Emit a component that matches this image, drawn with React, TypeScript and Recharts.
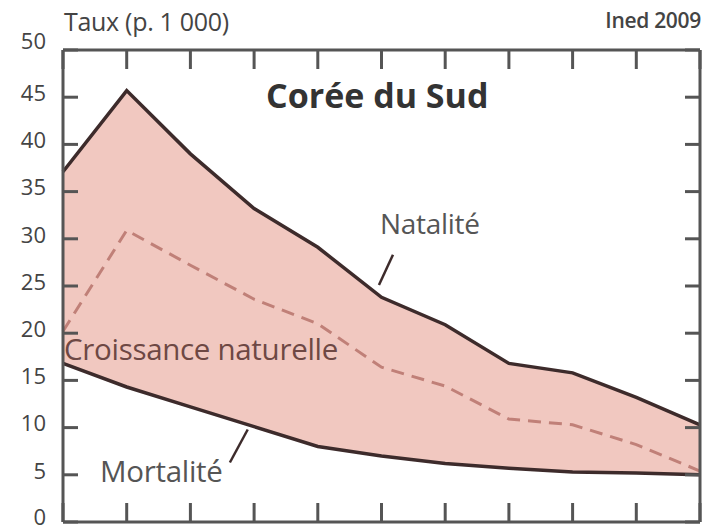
import {
  ComposedChart,
  Area,
  Line,
  XAxis,
  YAxis,
  ReferenceLine,
} from "recharts"

// Corée du Sud, taux pour 1 000 habitants
const ANNEES = [1950, 1955, 1960, 1965, 1970, 1975, 1980, 1985, 1990, 1995, 2000]
const NATALITE = [37.1, 45.7, 39, 33.2, 29.1, 23.8, 20.9, 16.8, 15.8, 13.2, 10.3]
const MORTALITE = [16.8, 14.3, 12.2, 10.1, 8.0, 7.0, 6.2, 5.7, 5.3, 5.2, 5.0]
const CROISSANCE = [20.2, 30.9, 27.2, 23.6, 21, 16.4, 14.4, 10.9, 10.3, 8.2, 5.4]
const Y_TICKS = [0, 5, 10, 15, 20, 25, 30, 35, 40, 45, 50]

const data = ANNEES.map((annee, i) => ({
  annee,
  nat: NATALITE[i],
  mort: MORTALITE[i],
  crois: CROISSANCE[i],
  zone: [MORTALITE[i], NATALITE[i]],
}))

const FRAME = "#555"
const LINE = "#3d2b2b"
const FONT = "'Open Sans', sans-serif"

const xDomain: [number, number] = [ANNEES[0], ANNEES[ANNEES.length - 1]]

// pas de texte : seuls les petits traits de graduation intérieurs
const NoLabel = () => <g />

const YLabel = (props: any) => {
  const { x, y, payload } = props
  const lift = payload.value === 50 ? 9 : payload.value === 0 ? 5 : 4
  return (
    <text
      x={x}
      y={y - lift}
      dy="0.355em"
      textAnchor="end"
      fontSize={22}
      fill="#444"
      fontFamily={FONT}
    >
      {payload.value}
    </text>
  )
}

export default function App() {
  return (
    <div style={{ position: "absolute", left: 0, top: 0, width: 706, height: 532, background: "#fff", fontFamily: FONT }}>
      <ComposedChart
        width={706}
        height={532}
        data={data}
        margin={{ top: 50, right: 6, bottom: 10, left: 0 }}
      >
        <XAxis
          xAxisId="b"
          dataKey="annee"
          type="number"
          domain={xDomain}
          ticks={ANNEES}
          interval={0}
          orientation="bottom"
          mirror
          height={1}
          tick={NoLabel}
          tickSize={19}
          stroke={FRAME}
          strokeWidth={3}
        />
        <XAxis
          xAxisId="t"
          dataKey="annee"
          type="number"
          domain={xDomain}
          ticks={ANNEES}
          interval={0}
          orientation="top"
          mirror
          height={1}
          tick={NoLabel}
          tickSize={19}
          stroke={FRAME}
          strokeWidth={3}
        />
        <YAxis
          yAxisId="l"
          type="number"
          domain={[0, 50]}
          ticks={Y_TICKS}
          interval={0}
          orientation="left"
          width={63}
          tickLine={false}
          tickSize={0}
          tickMargin={17}
          axisLine={{ stroke: FRAME, strokeWidth: 3 }}
          tick={YLabel}
          allowDataOverflow
        />
        <YAxis
          yAxisId="lm"
          type="number"
          domain={[0, 50]}
          ticks={Y_TICKS}
          interval={0}
          orientation="left"
          mirror
          width={1}
          tick={NoLabel}
          axisLine={false}
          tickSize={15}
          stroke={FRAME}
          strokeWidth={3}
          allowDataOverflow
        />
        <YAxis
          yAxisId="rm"
          type="number"
          domain={[0, 50]}
          ticks={Y_TICKS}
          interval={0}
          orientation="right"
          mirror
          width={1}
          tick={NoLabel}
          tickSize={15}
          stroke={FRAME}
          strokeWidth={3}
          allowDataOverflow
        />
        <Area
          xAxisId="b"
          yAxisId="l"
          dataKey="zone"
          type="linear"
          fill="#f0c3bb"
          fillOpacity={0.92}
          stroke="none"
          isAnimationActive={false}
        />
        <Line
          xAxisId="b"
          yAxisId="l"
          dataKey="crois"
          type="linear"
          stroke="#c08078"
          strokeWidth={3}
          strokeDasharray="13 8"
          dot={false}
          isAnimationActive={false}
        />
        <Line
          xAxisId="b"
          yAxisId="l"
          dataKey="nat"
          type="linear"
          stroke={LINE}
          strokeWidth={3.5}
          dot={false}
          isAnimationActive={false}
        />
        <Line
          xAxisId="b"
          yAxisId="l"
          dataKey="mort"
          type="linear"
          stroke={LINE}
          strokeWidth={3.5}
          dot={false}
          isAnimationActive={false}
        />
        {/* traits de rappel des étiquettes */}
        <ReferenceLine
          xAxisId="b"
          yAxisId="l"
          segment={[{ x: 1975.9, y: 28.3 }, { x: 1974.8, y: 25.1 }]}
          stroke={LINE}
          strokeWidth={2.5}
          ifOverflow="visible"
        />
        <ReferenceLine
          xAxisId="b"
          yAxisId="l"
          segment={[{ x: 1964.5, y: 9.8 }, { x: 1963.1, y: 6.3 }]}
          stroke={LINE}
          strokeWidth={2.5}
          ifOverflow="visible"
        />
      </ComposedChart>
      <div style={{ position: "absolute", left: 64, top: 4, fontSize: 25, color: "#444", letterSpacing: -0.3 }}>
        Taux (p. 1 000)
      </div>
      <div style={{ position: "absolute", right: 5, top: 6, fontSize: 21, fontWeight: 600, color: "#444", letterSpacing: -0.3 }}>
        Ined 2009
      </div>
      <div style={{ position: "absolute", left: 266, top: 72, fontSize: 34, fontWeight: 700, color: "#333" }}>
        Corée du Sud
      </div>
      <div style={{ position: "absolute", left: 380, top: 204, fontSize: 28, color: "#555", letterSpacing: -0.3 }}>
        Natalité
      </div>
      <div style={{ position: "absolute", left: 64, top: 328, fontSize: 29.5, color: "#6e4844", letterSpacing: -0.3 }}>
        Croissance naturelle
      </div>
      <div style={{ position: "absolute", left: 100, top: 450, fontSize: 29.5, color: "#555", letterSpacing: -0.3 }}>
        Mortalité
      </div>
    </div>
  )
}
